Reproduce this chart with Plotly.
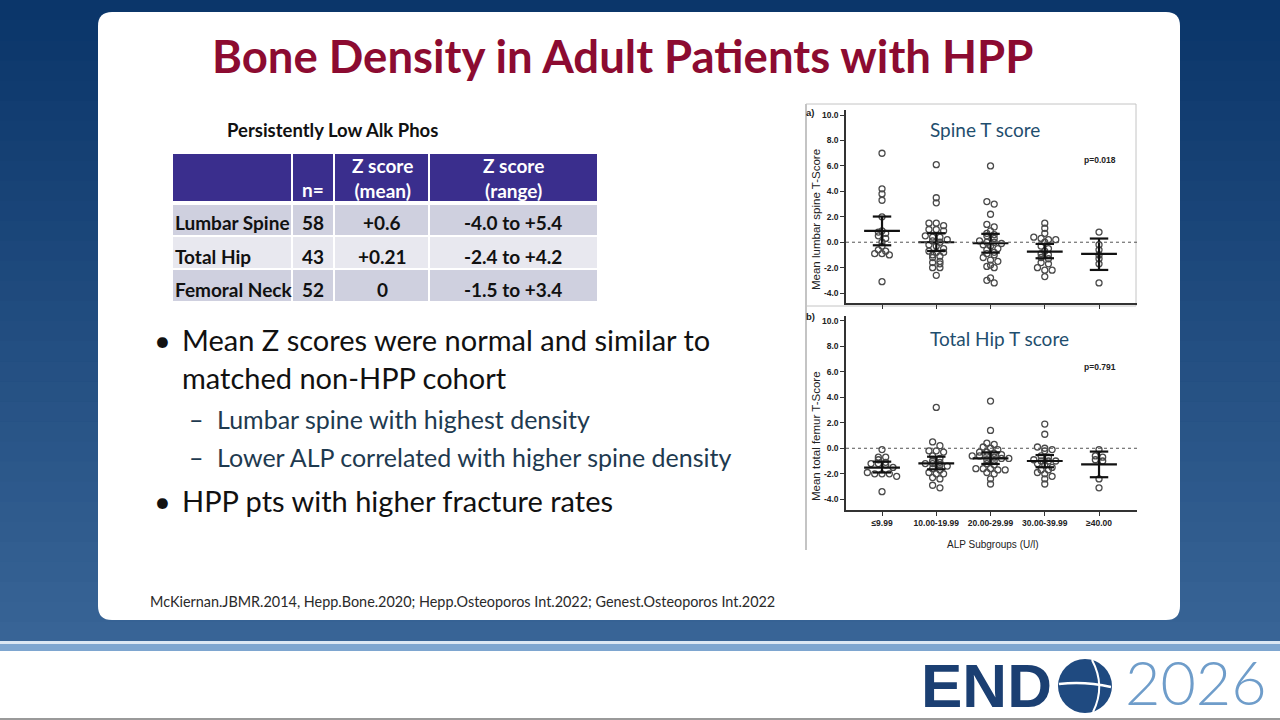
import plotly.graph_objects as go

W, H = 1280, 720

# ---------------- data ----------------
groups = ["≤9.99", "10.00-19.99", "20.00-29.99", "30.00-39.99", "≥40.00"]

spine_g1 = [7.0, 4.2, 3.8, 3.3, 2.0, 0.9, 0.8, 0.7, 0.5, 0.3, 0.0, -0.3, -0.6, -0.7, -0.9, -0.9, -1.0, -3.1]
spine_g2 = [6.1, 3.5, 3.1, 1.5, 1.5, 1.3, 1.0, 1.0, 0.9, 0.5, 0.4, 0.4, 0.2, 0.1, 0.0, -0.2, -0.3, -0.5,
            -0.7, -0.8, -0.8, -1.0, -1.1, -1.2, -1.5, -1.6, -1.7, -2.0, -2.0, -2.6]
spine_g3 = [6.0, 3.2, 3.0, 2.2, 1.4, 1.2, 0.9, 0.7, 0.6, 0.5, 0.3, 0.1, 0.0, 0.0, -0.1, -0.2, -0.3, -0.5,
            -0.6, -0.8, -0.9, -1.0, -1.2, -1.4, -1.5, -1.8, -1.9, -2.0, -2.8, -3.0, -3.2]
spine_g4 = [1.5, 1.1, 0.7, 0.4, 0.3, 0.2, 0.2, 0.0, -0.3, -0.5, -0.7, -0.9, -1.0, -1.2, -1.3, -1.6, -1.7,
            -2.0, -2.2, -2.2, -2.7]
spine_g5 = [0.8, -0.2, -0.6, -1.0, -1.3, -1.7, -3.2]
spine_mean = [0.89, 0.0, -0.08, -0.74, -0.92]
spine_lo = [-0.24, -0.69, -0.82, -1.26, -2.18]
spine_hi = [2.02, 0.71, 0.66, -0.13, 0.29]

hip_g1 = [-0.1, -0.7, -0.7, -0.9, -1.1, -1.2, -1.2, -1.3, -1.5, -1.9, -2.0, -2.0, -2.0, -2.2, -3.4]
hip_g2 = [3.2, 0.5, 0.2, -0.2, -0.2, -0.3, -0.6, -0.8, -1.0, -1.1, -1.2, -1.2, -1.3, -1.4, -1.6, -1.7,
          -1.9, -2.0, -2.0, -2.3, -2.4, -2.9, -3.1]
hip_g3 = [3.7, 1.4, 0.4, 0.3, 0.1, 0.0, -0.1, -0.3, -0.3, -0.4, -0.5, -0.6, -0.6, -0.6, -0.7, -0.8, -0.8,
          -0.9, -1.0, -1.2, -1.3, -1.6, -1.6, -1.6, -1.7, -1.7, -1.9, -2.0, -2.4, -2.8]
hip_g4 = [1.9, 1.1, 0.1, 0.0, -0.1, -0.2, -0.6, -0.7, -0.9, -1.0, -1.0, -1.0, -1.2, -1.3, -1.5, -1.7, -1.7,
          -1.9, -2.0, -2.2, -2.4, -2.8]
hip_g5 = [-0.1, -0.6, -0.7, -0.9, -1.0, -2.4, -3.1]
hip_mean = [-1.52, -1.18, -0.79, -1.0, -1.26]
hip_lo = [-1.9, -1.65, -1.23, -1.49, -2.27]
hip_hi = [-1.05, -0.66, -0.32, -0.53, -0.26]

y_ticks = [-4, -2, 0, 2, 4, 6, 8, 10]
y_ticktext = ["-4.0", "-2.0", "0.0", "2.0", "4.0", "6.0", "8.0", "10.0"]

table_title = "Persistently Low Alk Phos"
table_header = ["", "n=", "Z score<br>(mean)", "Z score<br>(range)"]
table_sites = ["Lumbar Spine", "Total Hip", "Femoral Neck"]
table_n = ["58", "43", "52"]
table_zmean = ["+0.6", "+0.21", "0"]
table_zrange = ["-4.0 to +5.4", "-2.4 to +4.2", "-1.5 to +3.4"]

title_text = "Bone Density in Adult Patients with HPP"
bullets = [
    ("•", "Mean Z scores were normal and similar to", 0),
    ("", "matched non-HPP cohort", 0),
    ("–", "Lumbar spine with highest density", 1),
    ("–", "Lower ALP correlated with higher spine density", 1),
    ("•", "HPP pts with higher fracture rates", 0),
]
footnote = "McKiernan.JBMR.2014, Hepp.Bone.2020; Hepp.Osteoporos Int.2022; Genest.Osteoporos Int.2022"


# ---------------- helpers ----------------
def px(x):
    return x / W


def py(y):
    return 1 - y / H


def swarm(vals, step=0.34, dx=0.135):
    bins = {}
    for i, v in enumerate(vals):
        bins.setdefault(round(v / step), []).append(i)
    offs = [0.0] * len(vals)
    for k, idx in bins.items():
        n = len(idx)
        for j, i in enumerate(idx):
            offs[i] = (j - (n - 1) / 2) * dx
    return offs


BODY = "Lato, 'Open Sans', sans-serif"
ARIAL = "'Liberation Sans', Arial, sans-serif"

fig = go.Figure()
shapes = []
ann = []

# ---------------- background ----------------
top_c = (11, 54, 106)
bot_c = (56, 100, 150)
nb = 32
for i in range(nb):
    t = i / (nb - 1)
    c = tuple(int(top_c[k] + (bot_c[k] - top_c[k]) * t) for k in range(3))
    y0 = 642 * i / nb
    y1 = 642 * (i + 1) / nb + 0.5
    shapes.append(dict(type="rect", xref="paper", yref="paper", x0=0, x1=1, y0=py(y1), y1=py(y0),
                       fillcolor="rgb(%d,%d,%d)" % c, line=dict(width=0), layer="below"))
shapes.append(dict(type="rect", xref="paper", yref="paper", x0=0, x1=1, y0=py(644), y1=py(641),
                   fillcolor="#dbe7f3", line=dict(width=0), layer="below"))
shapes.append(dict(type="rect", xref="paper", yref="paper", x0=0, x1=1, y0=py(651), y1=py(644),
                   fillcolor="#7ea6d0", line=dict(width=0), layer="below"))
shapes.append(dict(type="rect", xref="paper", yref="paper", x0=0, x1=1, y0=py(718), y1=py(651),
                   fillcolor="#ffffff", line=dict(width=0), layer="below"))
shapes.append(dict(type="rect", xref="paper", yref="paper", x0=0, x1=1, y0=0, y1=py(718),
                   fillcolor="#9a9a9a", line=dict(width=0), layer="below"))

# white card with rounded corners
r = 14
x0c, x1c, y0c, y1c = 98, 1180, 12, 620
path = (f"M {px(x0c + r)},{py(y0c)} L {px(x1c - r)},{py(y0c)} "
        f"Q {px(x1c)},{py(y0c)} {px(x1c)},{py(y0c + r)} L {px(x1c)},{py(y1c - r)} "
        f"Q {px(x1c)},{py(y1c)} {px(x1c - r)},{py(y1c)} L {px(x0c + r)},{py(y1c)} "
        f"Q {px(x0c)},{py(y1c)} {px(x0c)},{py(y1c - r)} L {px(x0c)},{py(y0c + r)} "
        f"Q {px(x0c)},{py(y0c)} {px(x0c + r)},{py(y0c)} Z")
shapes.append(dict(type="path", xref="paper", yref="paper", path=path, fillcolor="#ffffff",
                   line=dict(width=0), layer="below"))

# ---------------- title ----------------
ann.append(dict(text="<b>" + title_text + "</b>", x=px(622), y=py(56), xref="paper", yref="paper",
                showarrow=False, xanchor="center", yanchor="middle",
                font=dict(family=BODY, size=45.5, color="#8c0b31")))

# ---------------- table ----------------
ann.append(dict(text="<b>" + table_title + "</b>", x=px(332), y=py(130), xref="paper", yref="paper",
                showarrow=False, xanchor="center", yanchor="middle",
                font=dict(family=BODY, size=18.5, color="#111111")))
col_x = [173, 292, 334, 429, 597]
shapes.append(dict(type="rect", xref="paper", yref="paper", x0=px(173), x1=px(597), y0=py(201), y1=py(154),
                   fillcolor="#3a2e8d", line=dict(width=0), layer="below"))
row_y = [(205, 235), (237, 268), (270, 301)]
row_fill = ["#cfd0df", "#e8e8ef", "#cfd0df"]
for (a, b), f in zip(row_y, row_fill):
    shapes.append(dict(type="rect", xref="paper", yref="paper", x0=px(173), x1=px(597), y0=py(b), y1=py(a),
                       fillcolor=f, line=dict(width=0), layer="below"))
for cx in col_x[1:4]:
    shapes.append(dict(type="line", xref="paper", yref="paper", x0=px(cx), x1=px(cx), y0=py(301), y1=py(154),
                       line=dict(color="#ffffff", width=2), layer="below"))
col_center = [None, 313, 382, 513]
hdr_y = [None, 190, 178, 178]
for j in range(1, 4):
    ann.append(dict(text="<b>" + table_header[j] + "</b>", x=px(col_center[j]), y=py(hdr_y[j]),
                    xref="paper", yref="paper", showarrow=False, xanchor="center", yanchor="middle",
                    font=dict(family=BODY, size=19, color="#ffffff")))
row_c = [222, 256, 289]
for i in range(3):
    ann.append(dict(text="<b>" + table_sites[i] + "</b>", x=px(173), y=py(row_c[i]), xref="paper", yref="paper",
                    showarrow=False, xanchor="left", yanchor="middle",
                    font=dict(family=BODY, size=19, color="#111111")))
    for j, v in zip([1, 2, 3], [table_n[i], table_zmean[i], table_zrange[i]]):
        ann.append(dict(text="<b>" + v + "</b>", x=px(col_center[j]), y=py(row_c[i]), xref="paper", yref="paper",
                        showarrow=False, xanchor="center", yanchor="middle",
                        font=dict(family=BODY, size=19, color="#111111")))

# ---------------- bullets ----------------
bul_y = [339, 377, 419, 457, 500]
for (sym, txt, lvl), yy in zip(bullets, bul_y):
    if lvl == 0:
        col, size, sx, tx = "#111111", 29, 152, 180
    else:
        col, size, sx, tx = "#1e3a4f", 25, 187, 215
    if sym:
        ann.append(dict(text=sym, x=px(sx), y=py(yy), xref="paper", yref="paper", showarrow=False,
                        xanchor="left", yanchor="middle", font=dict(family=BODY, size=size, color=col)))
    ann.append(dict(text=txt, x=px(tx), y=py(yy), xref="paper", yref="paper", showarrow=False,
                    xanchor="left", yanchor="middle", font=dict(family=BODY, size=size, color=col)))

ann.append(dict(text=footnote, x=px(148), y=py(601), xref="paper", yref="paper", showarrow=False,
                xanchor="left", yanchor="middle", font=dict(family=BODY, size=14.4, color="#2a2a2a")))

# ---------------- charts ----------------
shapes.append(dict(type="rect", xref="paper", yref="paper", x0=px(806), x1=px(1136), y0=py(306), y1=py(104),
                   line=dict(color="#c4c4c4", width=1), fillcolor="rgba(0,0,0,0)", layer="below"))
shapes.append(dict(type="line", xref="paper", yref="paper", x0=px(806), x1=px(806), y0=py(550), y1=py(104),
                   line=dict(color="#c4c4c4", width=2), layer="below"))

panels = [
    ("x", "y", [spine_g1, spine_g2, spine_g3, spine_g4, spine_g5], spine_mean, spine_lo, spine_hi),
    ("x2", "y2", [hip_g1, hip_g2, hip_g3, hip_g4, hip_g5], hip_mean, hip_lo, hip_hi),
]
for xa, ya, gvals, mn, lo, hi in panels:
    xs, ys = [], []
    for gi, vals in enumerate(gvals):
        offs = swarm(vals)
        xs += [gi + o for o in offs]
        ys += vals
    fig.add_trace(go.Scatter(x=xs, y=ys, mode="markers", xaxis=xa, yaxis=ya, showlegend=False,
                             marker=dict(symbol="circle-open", size=6, color="#4a4a4a", line=dict(width=1.3)),
                             hoverinfo="skip"))
    ex, ey = [], []
    for gi in range(5):
        ex += [gi - 0.33, gi + 0.33, None, gi, gi, None, gi - 0.17, gi + 0.17, None, gi - 0.17, gi + 0.17, None]
        ey += [mn[gi], mn[gi], None, lo[gi], hi[gi], None, hi[gi], hi[gi], None, lo[gi], lo[gi], None]
    fig.add_trace(go.Scatter(x=ex, y=ey, mode="lines", xaxis=xa, yaxis=ya, showlegend=False,
                             line=dict(color="#111111", width=2.2), hoverinfo="skip", connectgaps=False))
    shapes.append(dict(type="line", xref=xa + " domain", yref=ya,
                       x0=0, x1=1, y0=0, y1=0, line=dict(color="#555555", width=1, dash="dot")))

xrange_ = [-0.664, 4.70]
axfont = dict(family=ARIAL, size=8.5, color="#222222", weight="bold")
common_x = dict(range=xrange_, showgrid=False, zeroline=False, showline=True, linecolor="#333333",
                linewidth=1.5, ticks="outside", ticklen=4, tickcolor="#333333", tickvals=list(range(5)),
                fixedrange=True)
common_y = dict(showgrid=False, zeroline=False, showline=True, linecolor="#333333", linewidth=1.5,
                ticks="outside", ticklen=4, tickcolor="#333333", tickvals=y_ticks, ticktext=y_ticktext,
                tickfont=axfont, fixedrange=True)

fig.update_layout(
    xaxis=dict(**common_x, domain=[px(846), px(1137)], anchor="y", showticklabels=False),
    yaxis=dict(**common_y, domain=[py(303), py(110)], range=[-4.78, 10.4], anchor="x"),
    xaxis2=dict(**common_x, domain=[px(846), px(1137)], anchor="y2", ticktext=groups, tickfont=axfont),
    yaxis2=dict(**common_y, domain=[py(510), py(316)], range=[-4.84, 10.37], anchor="x2"),
)

ann.append(dict(text="Spine T score", x=px(985), y=py(129), xref="paper", yref="paper", showarrow=False,
                xanchor="center", yanchor="middle", font=dict(family=BODY, size=19, color="#1f4e6e")))
ann.append(dict(text="Total Hip T score", x=px(999), y=py(338), xref="paper", yref="paper", showarrow=False,
                xanchor="center", yanchor="middle", font=dict(family=BODY, size=19, color="#1f4e6e")))
ann.append(dict(text="<b>p=0.018</b>", x=4.02, y=6.47, xref="x", yref="y", showarrow=False,
                xanchor="center", yanchor="middle", font=dict(family=ARIAL, size=8.5, color="#222222")))
ann.append(dict(text="<b>p=0.791</b>", x=4.02, y=6.37, xref="x2", yref="y2", showarrow=False,
                xanchor="center", yanchor="middle", font=dict(family=ARIAL, size=8.5, color="#222222")))
ann.append(dict(text="<b>a)</b>", x=px(810), y=py(112), xref="paper", yref="paper", showarrow=False,
                xanchor="center", yanchor="middle", font=dict(family=ARIAL, size=9.5, color="#222222")))
ann.append(dict(text="<b>b)</b>", x=px(810), y=py(316), xref="paper", yref="paper", showarrow=False,
                xanchor="center", yanchor="middle", font=dict(family=ARIAL, size=9.5, color="#222222")))
ann.append(dict(text="Mean lumbar spine T-Score", x=px(816), y=py(220), xref="paper", yref="paper",
                showarrow=False, textangle=-90, xanchor="center", yanchor="middle",
                font=dict(family=ARIAL, size=11.5, color="#222222")))
ann.append(dict(text="Mean total femur T-Score", x=px(816), y=py(436), xref="paper", yref="paper",
                showarrow=False, textangle=-90, xanchor="center", yanchor="middle",
                font=dict(family=ARIAL, size=11.5, color="#222222")))
ann.append(dict(text="ALP Subgroups (U/l)", x=px(993), y=py(544), xref="paper", yref="paper",
                showarrow=False, xanchor="center", yanchor="middle",
                font=dict(family=ARIAL, size=10, color="#222222")))

# ---------------- logo ----------------
ann.append(dict(text="<b>END</b>", x=px(919), y=py(685), xref="paper", yref="paper", showarrow=False,
                xanchor="left", yanchor="middle", font=dict(family=ARIAL, size=62, color="#1b3f72")))
shapes.append(dict(type="circle", xref="paper", yref="paper", x0=px(1058), x1=px(1112), y0=py(713), y1=py(659),
                   fillcolor="#1f4a80", line=dict(width=0)))
shapes.append(dict(type="path", xref="paper", yref="paper",
                   path=f"M {px(1059)},{py(684)} Q {px(1085)},{py(681)} {px(1111)},{py(687)}",
                   line=dict(color="#ffffff", width=2.5)))
shapes.append(dict(type="path", xref="paper", yref="paper",
                   path=f"M {px(1092)},{py(660)} Q {px(1106)},{py(686)} {px(1093)},{py(712)}",
                   line=dict(color="#ffffff", width=2)))
ann.append(dict(text="2026", x=px(1268), y=py(681), xref="paper", yref="paper", showarrow=False,
                xanchor="right", yanchor="middle", borderpad=0,
                font=dict(family=BODY, size=61, color="#6f9dca", weight=300)))

fig.update_layout(width=W, height=H, autosize=False, margin=dict(l=0, r=0, t=0, b=0),
                  paper_bgcolor="#0b386e", plot_bgcolor="rgba(0,0,0,0)", shapes=shapes, annotations=ann,
                  showlegend=False)

fig.write_html("out.html", config={"displayModeBar": False},
               post_script="document.body.style.margin='0';document.body.style.overflow='hidden';")
